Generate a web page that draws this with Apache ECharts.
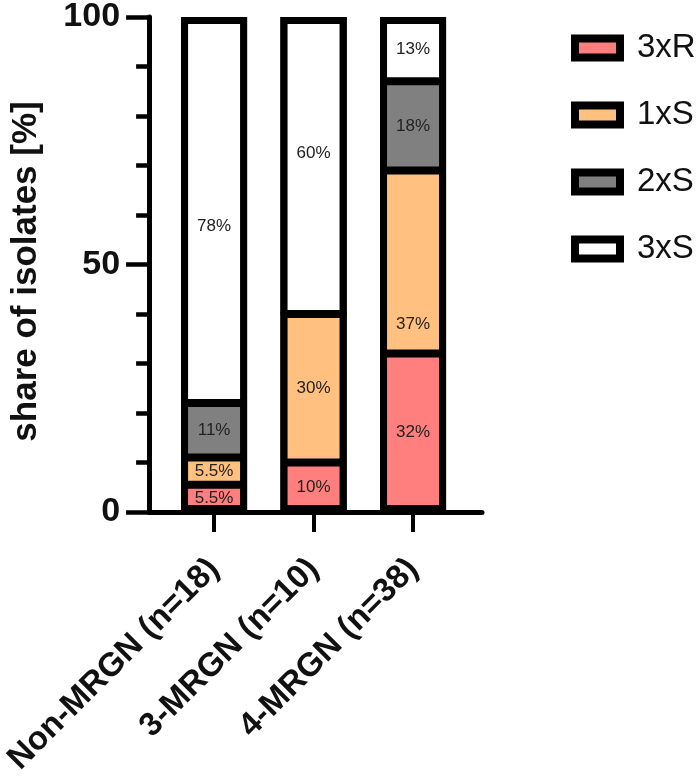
<!DOCTYPE html>
<html>
<head>
<meta charset="utf-8">
<script src="https://cdn.jsdelivr.net/npm/echarts@6/dist/echarts.min.js"></script>
<style>
  html, body { margin: 0; padding: 0; background: #fff; }
  #chart { width: 700px; height: 778px; }
</style>
</head>
<body>
<div id="chart"></div>
<script>
// ---- data ----
const categories = ['Non-MRGN (n=18)', '3-MRGN (n=10)', '4-MRGN (n=38)'];
const seriesNames = ['3xR', '1xS', '2xS', '3xS'];
const val3xR = [5.5, 10, 32];
const val1xS = [5.5, 30, 37];
const val2xS = [11, 0, 18];
const val3xS = [78, 60, 13];
const yTicks = [0, 50, 100];

const seriesValues = [val3xR, val1xS, val2xS, val3xS];
const colors = ['#FF7F7F', '#FFC080', '#808080', '#FFFFFF'];
// manual label nudges (pixels), as in the original figure
const labelShift = { '3-0': 16, '3-1': -12, '1-2': 62 };

const font = '"Liberation Sans", Arial, sans-serif';
const chart = echarts.init(document.getElementById('chart'));
const BAR_W = 66;

const series = seriesNames.map((name, s) => ({
  name: name,
  type: 'bar',
  stack: 'total',
  barWidth: BAR_W,
  barGap: '-100%',
  // value first, category index second -> stacking happens on the y dimension
  encode: { x: 1, y: 0 },
  data: seriesValues[s].map((v, i) => {
    const item = { value: [v, i] };
    const k = s + '-' + i;
    if (labelShift[k] !== undefined) item.label = { offset: [0, labelShift[k]] };
    return item;
  }),
  itemStyle: { color: colors[s], borderColor: '#000', borderWidth: 4 },
  label: {
    show: true,
    position: 'inside',
    color: '#222',
    fontSize: 17,
    fontFamily: font,
    formatter: p => (p.value[0] ? p.value[0] + '%' : '')
  },
  emphasis: { disabled: true },
  z: 2
}));

// column totals, used for the black backing and outer frame of each stacked column
const totals = categories.map((_, i) => seriesValues.reduce((a, arr) => a + arr[i], 0));
function frameSeries(fill, bw, z) {
  return {
    name: 'frame' + z,
    type: 'bar',
    barWidth: BAR_W,
    barGap: '-100%',
    encode: { x: 1, y: 0 },
    data: totals.map((t, i) => [t, i]),
    itemStyle: { color: fill, borderColor: '#000', borderWidth: bw },
    label: { show: false },
    silent: true,
    emphasis: { disabled: true },
    z: z
  };
}
series.unshift(frameSeries('#000', 0, 1));
series.push(frameSeries('rgba(0,0,0,0)', 7, 3));

chart.setOption({
  animation: false,
  backgroundColor: '#fff',
  grid: { left: 149, top: 14, width: 333, height: 499, containLabel: false },
  legend: {
    orient: 'vertical',
    left: 571,
    top: 28,
    icon: 'rect',
    itemWidth: 45,
    itemHeight: 19,
    itemGap: 27,
    padding: 0,
    data: seriesNames,
    itemStyle: { borderColor: '#000', borderWidth: 8 },
    textStyle: { fontSize: 33, fontFamily: font, color: '#111', lineHeight: 40, padding: [0, 0, 0, 12] }
  },
  xAxis: {
    type: 'value',
    min: -0.653,
    max: 2.693,
    splitLine: { show: false },
    axisLine: { show: true, onZero: false, lineStyle: { color: '#000', width: 5 } },
    axisTick: { show: true, customValues: [0, 1, 2], length: 20, lineStyle: { color: '#000', width: 4 } },
    axisLabel: {
      customValues: [0, 1, 2],
      formatter: v => categories[Math.round(v)],
      rotate: 45,
      margin: 52,
      fontSize: 33,
      fontWeight: 'bold',
      fontFamily: font,
      color: '#111'
    }
  },
  yAxis: {
    type: 'value',
    min: 0,
    max: 100,
    interval: 50,
    name: 'share of isolates [%]',
    nameLocation: 'middle',
    nameGap: 105,
    nameTextStyle: { fontSize: 35, fontWeight: 'bold', fontFamily: font, color: '#111', padding: [0, 14, 0, 0] },
    splitLine: { show: false },
    axisLine: { show: true, onZero: false, lineStyle: { color: '#000', width: 5 } },
    axisTick: { show: true, length: 23, lineStyle: { color: '#000', width: 4.5 } },
    minorTick: { show: true, splitNumber: 5, length: 13, lineStyle: { color: '#000', width: 4.5 } },
    axisLabel: {
      margin: 29,
      fontSize: 34,
      fontWeight: 'bold',
      fontFamily: font,
      color: '#111'
    }
  },
  series: series
});
</script>
</body>
</html>
